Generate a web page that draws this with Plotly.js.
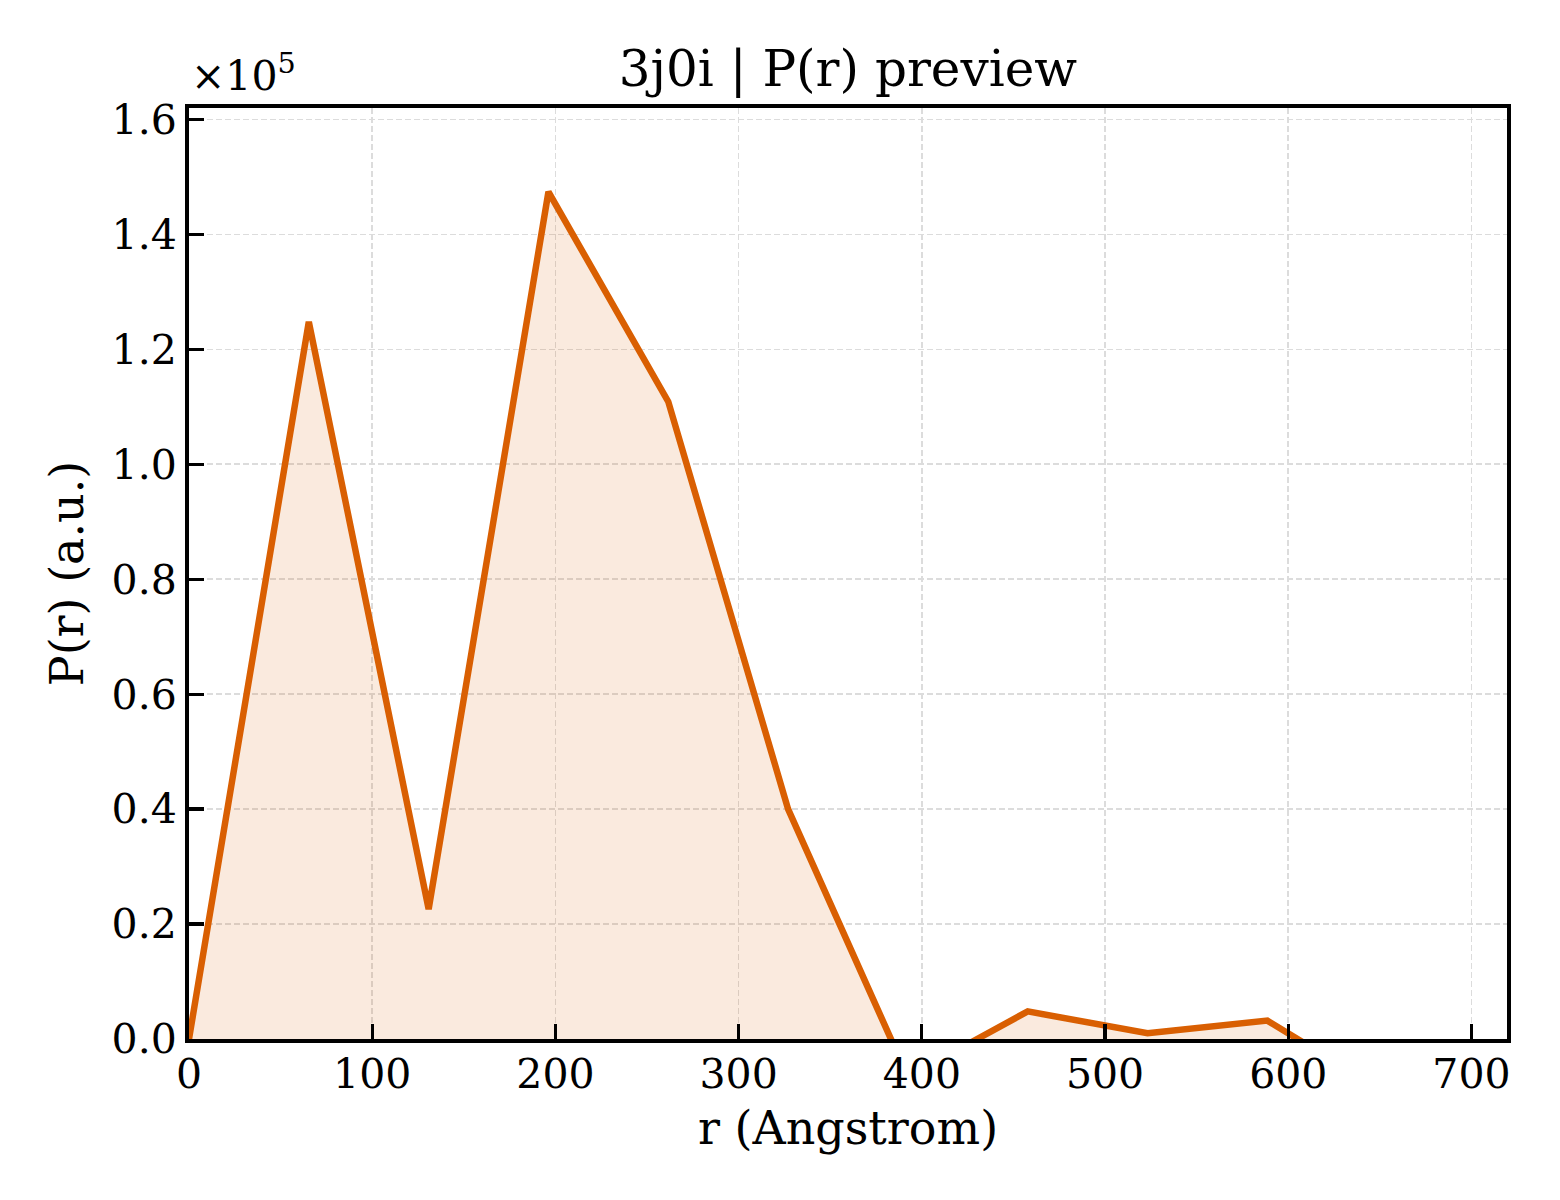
<!DOCTYPE html>
<html>
<head>
<meta charset="utf-8">
<script src="https://cdn.plot.ly/plotly-3.0.1.min.js"></script>
<style>
  body { margin: 0; background: #fff; }
  #chart { width: 1560px; height: 1200px; }
</style>
</head>
<body>
<div id="chart"></div>
<script>
// P(r) samples (r in Angstrom, P in a.u.)
const rValues = [0, 65.4, 130.8, 196.2, 261.6, 327.0, 392.4, 457.8, 523.2, 588.6, 654.0, 719.4];
const prValues = [0, 124800, 22600, 147400, 110900, 40000, -6600, 4800, 1000, 3200, -9500, -5000];

const xTicks = [0, 100, 200, 300, 400, 500, 600, 700];
const yTicks = [0, 20000, 40000, 60000, 80000, 100000, 120000, 140000, 160000];
const yTickText = ["0.0", "0.2", "0.4", "0.6", "0.8", "1.0", "1.2", "1.4", "1.6"];

const lineColor = "#d95f02";
const font = "DejaVu Serif, serif";

const trace = {
    x: rValues, y: prValues, type: "scatter", mode: "lines",
    line: { color: lineColor, width: 6.5 },
    fill: "tozeroy", fillcolor: "rgba(217,95,2,0.13)",
    hoverinfo: "skip", showlegend: false
};

const axisBase = {
    showline: true, linecolor: "#000", linewidth: 4, mirror: true,
    ticks: "inside", ticklen: 15, tickwidth: 3.3, tickcolor: "#000",
    showgrid: true, gridcolor: "#dcdcdc", gridwidth: 1.7, griddash: "6px,3px",
    zeroline: false, tickfont: { family: font, size: 41, color: "#000" }
};

const layout = {
    width: 1560, height: 1200,
    paper_bgcolor: "#fff", plot_bgcolor: "#fff",
    margin: { l: 189, r: 53, t: 108, b: 161 },
    font: { family: font, color: "#000" },
    title: {
        text: "3j0i | P(r) preview", font: { family: font, size: 50, color: "#000" },
        x: 0.5435, xanchor: "center", y: 0.943, yanchor: "middle", yref: "container"
    },
    xaxis: {
        ...axisBase, range: [0, 719.4], tickvals: xTicks, ticklabelstandoff: -4,
        title: { text: "r (Angstrom)", font: { family: font, size: 46 }, standoff: 16 }
    },
    yaxis: {
        ...axisBase, range: [0, 162000], tickvals: yTicks, ticktext: yTickText,
        title: { text: "P(r) (a.u.)", font: { family: font, size: 46 }, standoff: 14 }
    },
    annotations: [{
        text: "×10<sup>5</sup>", xref: "paper", yref: "paper", x: 0, y: 1,
        xanchor: "left", yanchor: "bottom", yshift: 6, showarrow: false,
        font: { family: font, size: 41, color: "#000" }
    }]
};

Plotly.newPlot("chart", [trace], layout, { staticPlot: true });
</script>
</body>
</html>
